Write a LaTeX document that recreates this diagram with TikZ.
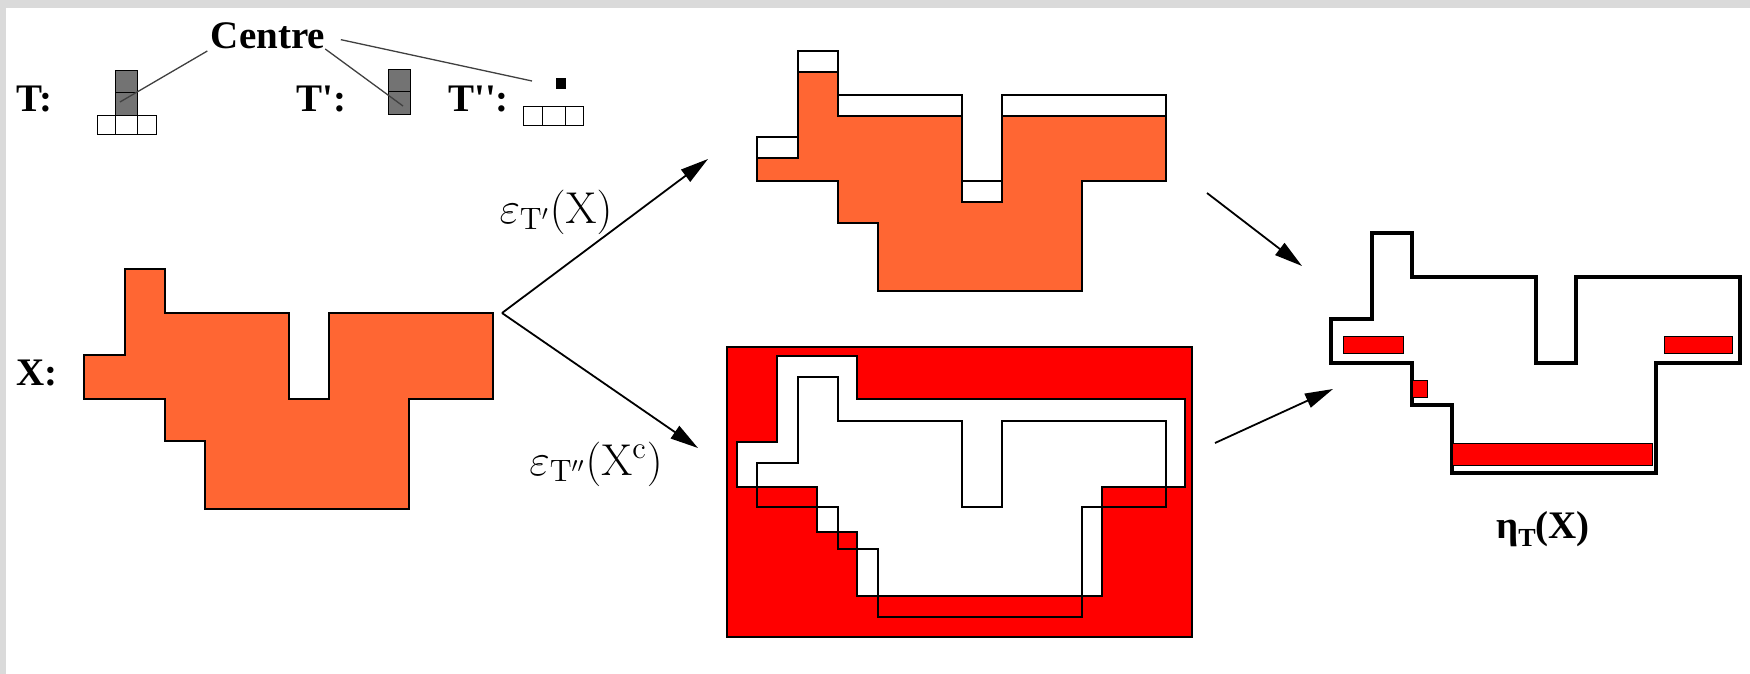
\documentclass[tikz,border=0pt]{standalone}
\usepackage[no-math]{fontspec}
\setmainfont{Liberation Serif}[Ligatures=TeXOff]
\usetikzlibrary{arrows.meta}
\definecolor{xorange}{RGB}{255,102,51}
\definecolor{xred}{RGB}{255,0,0}
\definecolor{bordergray}{RGB}{218,218,218}
\def\Xshape{(84,355)--(125,355)--(125,269)--(165,269)--(165,313)--(289,313)--(289,399)--(329,399)--(329,313)--(493,313)--(493,399)--(409,399)--(409,509)--(205,509)--(205,441)--(165,441)--(165,399)--(84,399)--cycle}
\def\Xeroded{(84,376)--(125,376)--(125,290)--(165,290)--(165,334)--(289,334)--(289,420)--(329,420)--(329,334)--(493,334)--(493,399)--(409,399)--(409,509)--(205,509)--(205,441)--(165,441)--(165,399)--(84,399)--cycle}
\tikzset{
  shp/.style={draw=black, line width=1.6pt, line join=miter},
  arr/.style={-{Triangle[length=28pt,width=15pt]}, line width=1.8pt},
  blabel/.style={font=\fontsize{39}{41}\selectfont\bfseries, inner sep=0pt},
  mlabel/.style={font=\fontsize{20}{24}\selectfont, inner sep=0pt, scale=2.15, transform shape},
  hatch/.style={fill=black!55, draw=black, line width=1pt},
  cell/.style={draw=black, line width=1pt, fill=white},
  redbar/.style={fill=xred, draw=black, line width=0.8pt},
  ptr/.style={draw=black!75, line width=1.3pt}
}
\begin{document}
\begin{tikzpicture}[x=1pt,y=-1pt]
\useasboundingbox (0,0) rectangle (1750,674);
\fill[white] (0,0) rectangle (1750,674);
\fill[bordergray] (0,0) rectangle (1750,8);
\fill[bordergray] (0,0) rectangle (6,674);

% structuring elements
\filldraw[hatch] (115,71) rectangle (137,93);
\filldraw[hatch] (115,93) rectangle (137,116);
\filldraw[cell] (97,116) rectangle (115,135);
\filldraw[cell] (115,116) rectangle (137,135);
\filldraw[cell] (137,116) rectangle (156,135);

\filldraw[hatch] (388,70) rectangle (410,92);
\filldraw[hatch] (388,92) rectangle (410,115);

\fill[black] (556,78) rectangle (566,89);
\filldraw[cell] (523,107) rectangle (542,126);
\filldraw[cell] (542,107) rectangle (565,126);
\filldraw[cell] (565,107) rectangle (583,126);

% labels
\node[blabel, anchor=base west] (lT) at (16,112) {T:};
\node[blabel, anchor=base west] (lT1) at (296,112) {T':};
\node[blabel, anchor=base west] (lT2) at (448,112) {T'':};
\node[blabel, anchor=base west] (lX) at (16,385) {X:};
\node[blabel, anchor=base] (centre) at (268,49) {Centre};

\coordinate (cT) at (120,102);
\coordinate (cT1) at (403,106);
\coordinate (cT2) at (532,81);
\draw[ptr, shorten <=4pt] (centre.base west) -- (cT);
\draw[ptr] (centre.base east) -- (cT1);
\draw[ptr, shorten <=16pt] (centre.east) -- (cT2);

% X
\filldraw[shp, fill=xorange] \Xshape;

% erosion of X by T'
\begin{scope}[shift={(673,-218)}]
\filldraw[shp, fill=white] \Xshape;
\filldraw[shp, fill=xorange] \Xeroded;
\end{scope}

% erosion of complement
\filldraw[shp, fill=xred] (727,347) rectangle (1192,637);
\filldraw[shp, fill=white] (737,442)--(777,442)--(777,356)--(857,356)--(857,399)--(1185,399)--(1185,487)--(1102,487)--(1102,596)--(857,596)--(857,532)--(817,532)--(817,487)--(737,487)--cycle;
\begin{scope}[shift={(673,108)}]
\draw[shp] \Xshape;
\end{scope}

% hit-or-miss result
\begin{scope}[shift={(1247,-36)}]
\draw[line width=4pt, line join=miter] \Xshape;
\end{scope}
\filldraw[redbar] (1343,336) rectangle (1403,353);
\filldraw[redbar] (1664,336) rectangle (1732,353);
\filldraw[redbar] (1412,380) rectangle (1427,397);
\filldraw[redbar] (1452,443) rectangle (1652,465);

% arrows
\coordinate (apex) at (502,313);
\coordinate (topin) at (708,159);
\coordinate (botin) at (698,448);
\coordinate (r1s) at (1207,193);
\coordinate (r1e) at (1302,266);
\coordinate (r2s) at (1215,443);
\coordinate (r2e) at (1333,389);
\draw[arr] (apex) -- (topin);
\draw[arr] (apex) -- (botin);
\draw[arr] (r1s) -- (r1e);
\draw[arr] (r2s) -- (r2e);

\node[mlabel, anchor=base] (e1) at (556,223) {$\varepsilon_{\mathrm{T'}}(\mathrm{X})$};
\node[mlabel, anchor=base] (e2) at (596,475) {$\varepsilon_{\mathrm{T''}}(\mathrm{X}^{\mathrm{c}})$};
\node[blabel, anchor=base] (eta) at (1543,538) {η\raisebox{-0.22em}{\fontsize{26}{26}\selectfont T}(X)};
\end{tikzpicture}
\end{document}
